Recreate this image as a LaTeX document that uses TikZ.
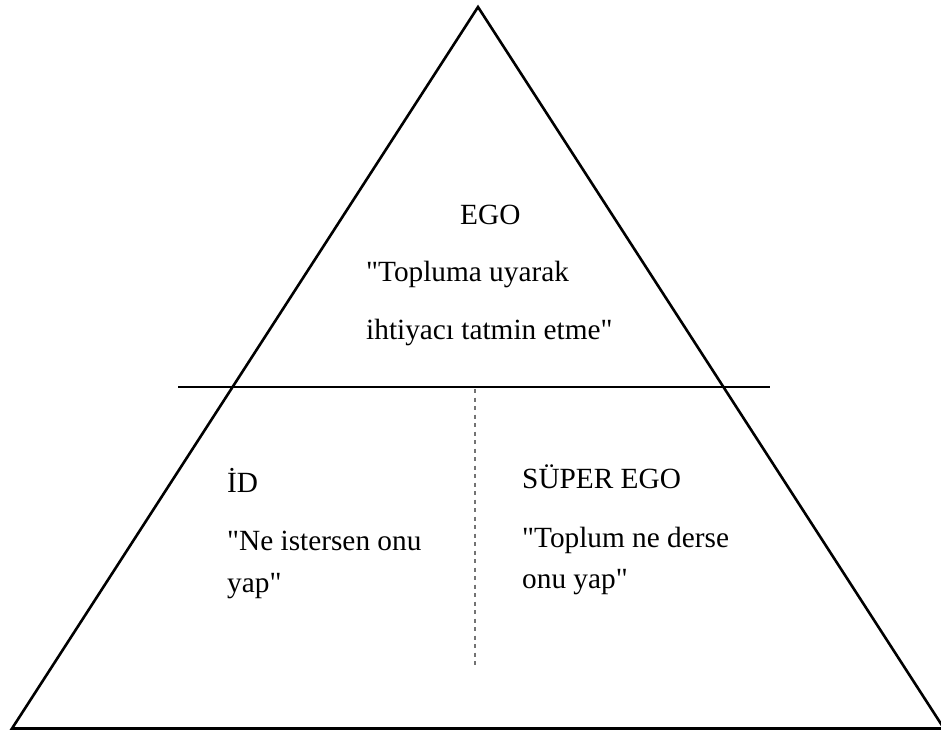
\documentclass[tikz,border=0pt]{standalone}
\usepackage{fontspec}
\setmainfont{Liberation Serif}[Ligatures=TeXOff]
\begin{document}
\begin{tikzpicture}[x=1pt,y=-1pt,
  edge/.style={line width=2.6pt,black},
  divider/.style={line width=2.4pt,black},
  split/.style={line width=2pt,gray!90!black,dash pattern=on 4pt off 4.5pt},
  label/.style={anchor=base west,inner sep=0pt,font=\fontsize{29.3}{41}\selectfont}]
  \useasboundingbox (0,0) rectangle (941,731);
  % pyramid corners
  \coordinate (apex) at (478,7);
  \coordinate (bl) at (12,728.5);
  \coordinate (br) at (944,728.5);
  \draw[edge,line join=miter] (bl) -- (apex) -- (br) -- cycle;
  % horizontal divider between ego and the lower parts
  \coordinate (hl) at (178,387);
  \coordinate (hr) at (770,387);
  \draw[divider] (hl) -- (hr);
  % dashed split between id and super ego
  \coordinate (vt) at (475,389);
  \coordinate (vb) at (475,667);
  \draw[split] (vt) -- (vb);
  % texts
  \node[label] (ego) at (460,224) {EGO};
  \node[label] (ego1) at (366,281) {"Topluma uyarak};
  \node[label] (ego2) at (366,339) {ihtiyacı tatmin etme"};
  \node[label] (id) at (227,492) {İD};
  \node[label] (id1) at (227,550) {"Ne istersen onu};
  \node[label] (id2) at (227,592) {yap"};
  \node[label] (sego) at (522,488) {SÜPER EGO};
  \node[label] (sego1) at (522,547) {"Toplum ne derse};
  \node[label] (sego2) at (522,588) {onu yap"};
\end{tikzpicture}
\end{document}
